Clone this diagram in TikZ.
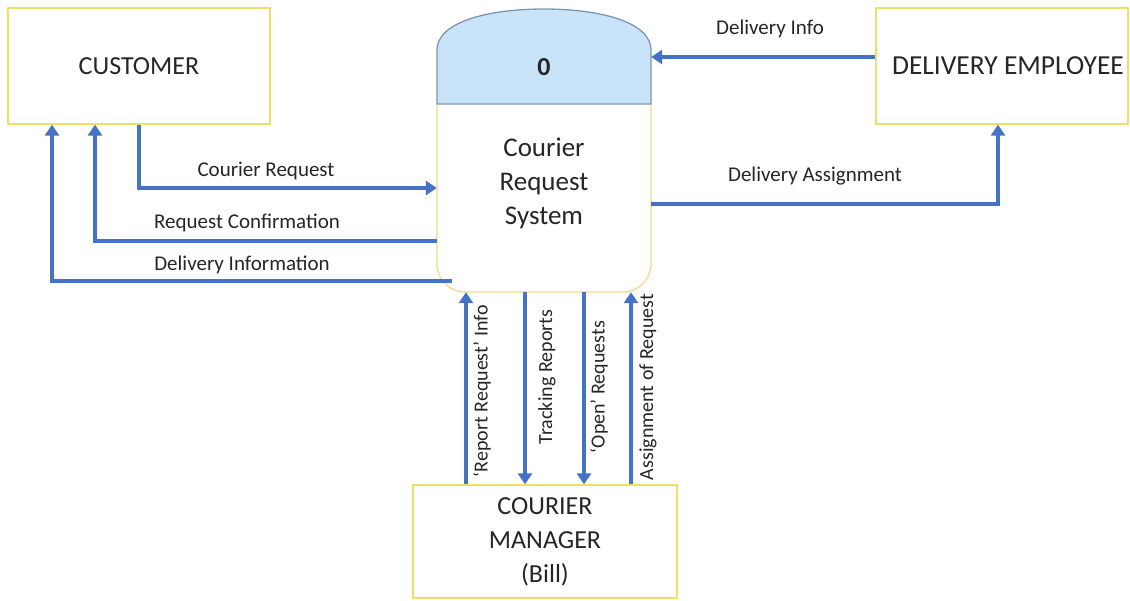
\documentclass[tikz,border=0pt]{standalone}
\usepackage{fontspec}
\setmainfont{Carlito}
\usetikzlibrary{arrows.meta,calc}
\definecolor{flowblue}{HTML}{4472C4}
\definecolor{boxyellow}{HTML}{EEE064}
\definecolor{procedge}{HTML}{F5D88E}
\definecolor{headfill}{HTML}{C9E4F8}
\definecolor{headedge}{HTML}{7D97B2}
\definecolor{ink}{HTML}{262626}
\tikzset{
  entity/.style={draw=boxyellow, line width=1.3pt, fill=white, text=ink,
    font=\fontsize{26}{34}\selectfont, inner sep=0pt, align=center},
  flow/.style={draw=flowblue, line width=4pt, -{Triangle[width=14pt,length=11pt]}},
  flowlabel/.style={text=ink, font=\fontsize{21}{25}\selectfont, inner sep=0pt},
  vlabel/.style={text=ink, font=\fontsize{20}{24}\selectfont, inner sep=0pt, rotate=90},
  proctext/.style={text=ink, font=\fontsize{27}{34}\selectfont, align=center, inner sep=0pt}
}
\begin{document}
\begin{tikzpicture}[x=1pt,y=-1pt]
\useasboundingbox (0,0) rectangle (1130,600);
\fill[white] (0,0) rectangle (1130,600);

% external entities
\node[entity, minimum width=262, minimum height=116] (cust) at (139,66) {CUSTOMER};
\node[entity, minimum width=252, minimum height=116, font=\fontsize{27.5}{34}\selectfont]
  (de) at (1002,66) {\hspace*{12pt}DELIVERY EMPLOYEE};
\node[entity, minimum width=264, minimum height=113] (mgr) at (545,541.5) {COURIER\\MANAGER\\(Bill)};

% process 0: outline box used for anchoring the flows
\node[minimum width=214, minimum height=283, inner sep=0pt] (proc) at (544,150.5) {};
\draw[procedge, line width=1.3pt, fill=white, rounded corners=28pt]
  (437,104) -- (437,292) -- (651,292) -- (651,104);
\draw[headedge, line width=1.3pt, fill=headfill]
  (437,104) -- (437,50) .. controls (437,22) and (488,9) .. (544,9)
  .. controls (600,9) and (651,22) .. (651,50) -- (651,104) -- cycle;
\node[proctext, font=\fontsize{26}{30}\selectfont\bfseries] (pid) at (544,67) {0};
\node[proctext] (pname) at (544,183) {Courier\\Request\\System};

% customer flows
\draw[flow] (cust.south) |- (proc.west |- 0,188);
\node[flowlabel] (lcr) at (266,171) {Courier Request};
\draw[flow] (proc.west |- 0,241) -| (cust.south -| 95,0);
\node[flowlabel] (lrc) at (247,223) {Request Confirmation};
\draw[flow] ($(proc.south west)+(15,-11)$) -| (cust.south -| 52,0);
\node[flowlabel] (ldi) at (242,265) {Delivery Information};

% delivery employee flows
\draw[flow] (de.west |- 0,57) -- (proc.east |- 0,57);
\node[flowlabel] (ldinfo) at (770,29) {Delivery Info};
\draw[flow] (proc.east |- 0,204) -| (de.south -| 998,0);
\node[flowlabel] (lda) at (815,176) {Delivery Assignment};

% courier manager flows
\draw[flow] (mgr.north -| 466,0) -- (proc.south -| 466,0);
\node[vlabel] (lrr) at (482,391) {‘Report Request’ Info};
\draw[flow] (proc.south -| 525,0) -- (mgr.north -| 525,0);
\node[vlabel] (ltr) at (547,377) {Tracking Reports};
\draw[flow] (proc.south -| 584,0) -- (mgr.north -| 584,0);
\node[vlabel] (lor) at (599,387) {‘Open’ Requests};
\draw[flow] (mgr.north -| 631,0) -- (proc.south -| 631,0);
\node[vlabel] (lar) at (648,387) {Assignment of Request};
\end{tikzpicture}
\end{document}
